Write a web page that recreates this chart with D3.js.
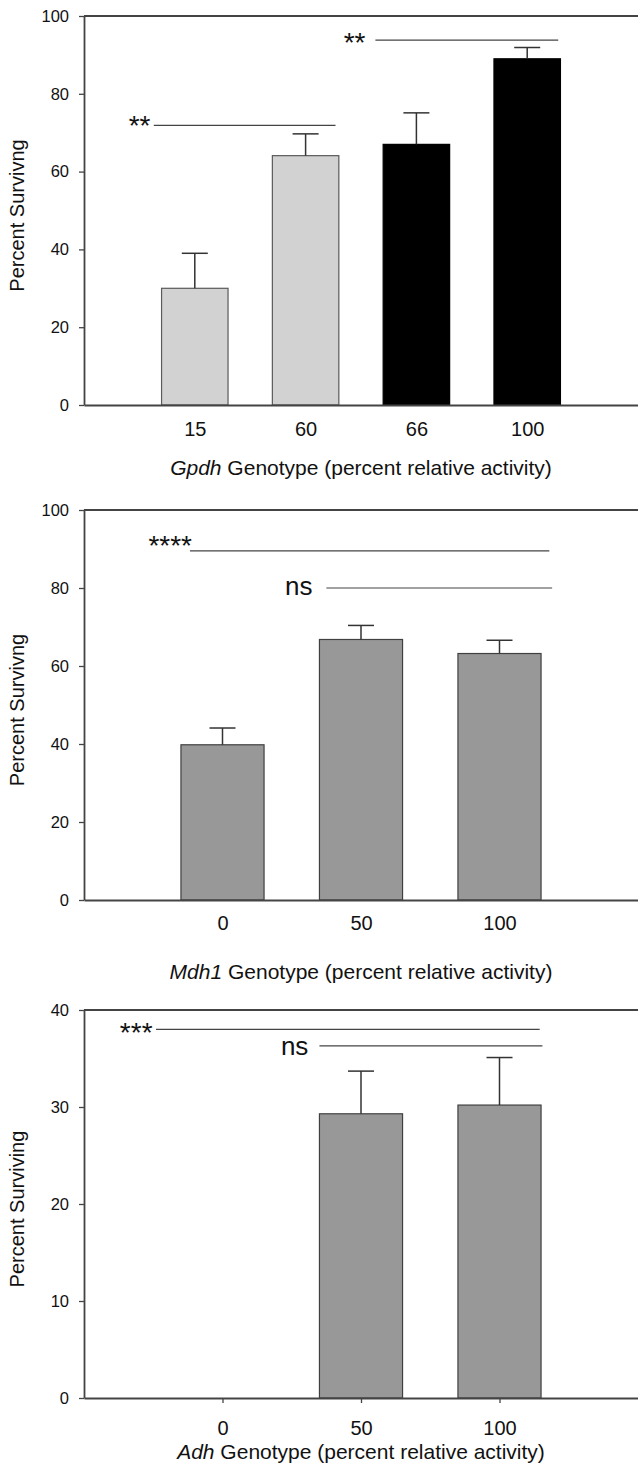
<!DOCTYPE html>
<html>
<head>
<meta charset="utf-8">
<script src="https://cdn.jsdelivr.net/npm/d3@7"></script>
<style>
  body { margin: 0; background: #fff; }
  svg { display: block; font-family: "Liberation Sans", Arial, sans-serif; }
</style>
</head>
<body>
<div id="chart"></div>
<script>
// ---- data ----
var gpdhGenotypes = ['15', '60', '66', '100'];
var gpdhSurvival = [30.0, 64.1, 67.0, 89.0];
var gpdhError = [9.0, 5.6, 8.1, 2.9];
var gpdhGroup = ['light', 'light', 'dark', 'dark'];
var gpdhTicks = [0, 20, 40, 60, 80, 100];

var mdh1Genotypes = ['0', '50', '100'];
var mdh1Survival = [39.8, 66.8, 63.2];
var mdh1Error = [4.3, 3.6, 3.4];
var mdh1Ticks = [0, 20, 40, 60, 80, 100];

var adhGenotypes = ['0', '50', '100'];
var adhSurvival = [0, 29.3, 30.2];
var adhError = [0, 4.4, 4.9];
var adhTicks = [0, 10, 20, 30, 40];

// significance brackets: [label, from, to, level, label end, label level]
// from/to/label end are in category units (first category = 1)
var gpdhBrackets = [
  ['**', 0.63, 2.27, 71.9, 0.60, 73.5],
  ['**', 2.63, 4.28, 93.8, 2.54, 94.9]
];
var mdh1Brackets = [
  ['****', 0.765, 3.36, 89.5, 0.78, 92.6],
  ['ns', 1.75, 3.38, 80.0, 1.65, 80.0]
];
var adhBrackets = [
  ['***', 0.52, 3.29, 38.0, 0.495, 38.35],
  ['ns', 1.70, 3.31, 36.3, 1.62, 36.1]
];

// ---- layout ----
var W = 638, H = 1470;
var panels = [
  { gene: 'Gpdh', yLabel: 'Percent Survivng', cats: gpdhGenotypes, vals: gpdhSurvival, errs: gpdhError,
    groups: gpdhGroup, ticks: gpdhTicks, yMax: 100, brackets: gpdhBrackets,
    top: 16, bottom: 405, xTicks: false, xPad: 17, titleGap: 70 },
  { gene: 'Mdh1', yLabel: 'Percent Survivng', cats: mdh1Genotypes, vals: mdh1Survival, errs: mdh1Error,
    groups: null, ticks: mdh1Ticks, yMax: 100, brackets: mdh1Brackets,
    top: 510, bottom: 900, xTicks: false, xPad: 16, titleGap: 79 },
  { gene: 'Adh', yLabel: 'Percent Surviving', cats: adhGenotypes, vals: adhSurvival, errs: adhError,
    groups: null, ticks: adhTicks, yMax: 40, brackets: adhBrackets,
    top: 1010, bottom: 1398, xTicks: true, xPad: 18, titleGap: 61 }
];
var left = 84, right = 638;

var fills = { light: '#d2d2d2', dark: '#000000', single: '#989898' };
var strokes = { light: '#5a5a5a', dark: '#000000', single: '#404040' };

var svg = d3.select('#chart').append('svg')
  .attr('width', W).attr('height', H);

panels.forEach(function (p) {
  var n = p.cats.length;
  var x = d3.scaleLinear().domain([0, n + 1]).range([left, right]);
  var y = d3.scaleLinear().domain([0, p.yMax]).range([p.bottom, p.top]);
  var step = x(1) - x(0);
  var bw = step * 0.6;

  var g = svg.append('g');

  // bars
  var idx = d3.range(n).filter(function (i) { return p.vals[i] > 0; });
  g.selectAll('rect.bar').data(idx).enter().append('rect')
    .attr('class', 'bar')
    .attr('x', function (i) { return x(i + 1) - bw / 2; })
    .attr('width', bw)
    .attr('y', function (i) { return y(p.vals[i]); })
    .attr('height', function (i) { return y(0) - y(p.vals[i]); })
    .attr('fill', function (i) { return fills[p.groups ? p.groups[i] : 'single']; })
    .attr('stroke', function (i) { return strokes[p.groups ? p.groups[i] : 'single']; })
    .attr('stroke-width', 1.2);

  // error bars (upper only)
  var eb = g.selectAll('g.err').data(idx).enter().append('g').attr('class', 'err')
    .attr('stroke', '#333').attr('stroke-width', 1.5);
  eb.append('line')
    .attr('x1', function (i) { return x(i + 1); })
    .attr('x2', function (i) { return x(i + 1); })
    .attr('y1', function (i) { return y(p.vals[i]); })
    .attr('y2', function (i) { return y(p.vals[i] + p.errs[i]); });
  eb.append('line')
    .attr('x1', function (i) { return x(i + 1) - 13; })
    .attr('x2', function (i) { return x(i + 1) + 13; })
    .attr('y1', function (i) { return y(p.vals[i] + p.errs[i]); })
    .attr('y2', function (i) { return y(p.vals[i] + p.errs[i]); });

  // top frame line
  g.append('line')
    .attr('x1', x(0)).attr('x2', x(n + 1))
    .attr('y1', y(p.yMax)).attr('y2', y(p.yMax))
    .attr('stroke', '#444').attr('stroke-width', 1.8);

  // y axis
  var yAxis = g.append('g')
    .attr('transform', 'translate(' + left + ',0)')
    .call(d3.axisLeft(y).tickValues(p.ticks).tickSize(5).tickSizeOuter(0).tickPadding(10));

  // x axis
  var xAxis = g.append('g')
    .attr('transform', 'translate(0,' + p.bottom + ')')
    .call(d3.axisBottom(x)
      .tickValues(d3.range(1, n + 1))
      .tickFormat(function (d) { return p.cats[d - 1]; })
      .tickSize(p.xTicks ? 5 : 0).tickSizeOuter(0)
      .tickPadding(p.xPad));

  [yAxis, xAxis].forEach(function (a) {
    a.attr('font-size', null).attr('font-family', null);
    a.select('.domain').attr('stroke', '#444').attr('stroke-width', 1.8);
    a.selectAll('.tick line').attr('stroke', '#444').attr('stroke-width', 1.3);
    a.selectAll('.tick text').attr('fill', '#111');
  });
  yAxis.selectAll('.tick text').style('font-size', '16.5px');
  xAxis.selectAll('.tick text').style('font-size', '20px');

  // significance brackets
  p.brackets.forEach(function (b) {
    var isStar = b[0].indexOf('*') === 0;
    var fs = isStar ? 28 : 26;
    var yc = y(b[5]);
    g.append('line')
      .attr('x1', x(b[1])).attr('x2', x(b[2]))
      .attr('y1', y(b[3])).attr('y2', y(b[3]))
      .attr('stroke', '#444').attr('stroke-width', 1.2);
    g.append('text')
      .attr('x', x(b[4]))
      .attr('y', yc + (isStar ? 0.575 * fs : 0.26 * fs))
      .attr('text-anchor', 'end')
      .style('font-size', fs + 'px')
      .attr('fill', '#111')
      .text(b[0]);
  });

  // axis titles
  var title = g.append('text')
    .attr('x', (left + right) / 2)
    .attr('y', p.bottom + p.titleGap)
    .attr('text-anchor', 'middle')
    .style('font-size', '21px')
    .attr('fill', '#111');
  title.append('tspan').style('font-style', 'italic').text(p.gene);
  title.append('tspan').text(' Genotype (percent relative activity)');

  g.append('text')
    .attr('transform', 'translate(24,' + ((p.top + p.bottom) / 2 + 5) + ') rotate(-90)')
    .attr('text-anchor', 'middle')
    .style('font-size', '20px')
    .attr('fill', '#111')
    .text(p.yLabel);
});
</script>
</body>
</html>
